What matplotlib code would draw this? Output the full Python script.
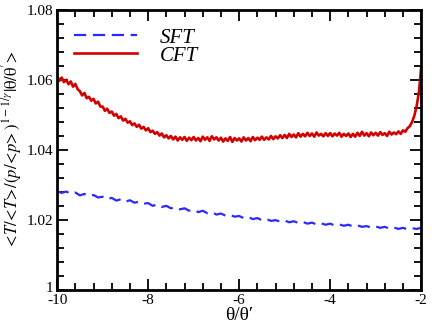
import numpy as np
import matplotlib
matplotlib.use('Agg')
import matplotlib.pyplot as plt
from matplotlib.ticker import MultipleLocator
from matplotlib.transforms import ScaledTranslation

cft_x = np.linspace(-10, -2, 161)
cft_y = [
    1.0612, 1.0598, 1.0607, 1.0594, 1.0601, 1.0588, 1.0596, 1.0581, 1.0589, 1.0574,
    1.0568, 1.0556, 1.0563, 1.0548, 1.0552, 1.0541, 1.0546, 1.0533, 1.0538, 1.0524,
    1.0524, 1.0512, 1.0518, 1.0506, 1.0510, 1.0498, 1.0503, 1.0491, 1.0496, 1.0484,
    1.0489, 1.0478, 1.0482, 1.0471, 1.0476, 1.0466, 1.0472, 1.0461, 1.0466, 1.0456,
    1.0462, 1.0451, 1.0455, 1.0446, 1.0451, 1.0441, 1.0447, 1.0436, 1.0442, 1.0433,
    1.0440, 1.0430, 1.0438, 1.0427, 1.0436, 1.0429, 1.0437, 1.0426, 1.0435, 1.0428,
    1.0437, 1.0427, 1.0434, 1.0425, 1.0438, 1.0429, 1.0436, 1.0426, 1.0439, 1.0430,
    1.0436, 1.0427, 1.0435, 1.0424, 1.0433, 1.0426, 1.0437, 1.0423, 1.0434, 1.0427,
    1.0433, 1.0424, 1.0436, 1.0427, 1.0434, 1.0425, 1.0437, 1.0428, 1.0435, 1.0429,
    1.0438, 1.0429, 1.0436, 1.0430, 1.0440, 1.0431, 1.0439, 1.0433, 1.0442, 1.0434,
    1.0443, 1.0434, 1.0446, 1.0437, 1.0444, 1.0436, 1.0448, 1.0438, 1.0446, 1.0439,
    1.0449, 1.0440, 1.0447, 1.0438, 1.0450, 1.0441, 1.0446, 1.0439, 1.0448, 1.0440,
    1.0448, 1.0439, 1.0447, 1.0441, 1.0449, 1.0438, 1.0446, 1.0440, 1.0447, 1.0437,
    1.0446, 1.0438, 1.0449, 1.0440, 1.0452, 1.0441, 1.0448, 1.0439, 1.0450, 1.0442,
    1.0449, 1.0441, 1.0451, 1.0443, 1.0448, 1.0440, 1.0452, 1.0444, 1.0450, 1.0445,
    1.0453, 1.0446, 1.0456, 1.0452, 1.0462, 1.0468, 1.0480, 1.0498, 1.0525, 1.0565,
    1.0635,
]

sft_x = np.linspace(-10, -2, 81)
sft_y = [
    1.0282, 1.0277, 1.0281, 1.0274, 1.0278, 1.0270, 1.0274, 1.0268, 1.0271, 1.0264,
    1.0266, 1.0259, 1.0263, 1.0255, 1.0259, 1.0252, 1.0256, 1.0249, 1.0252, 1.0246,
    1.0248, 1.0240, 1.0244, 1.0237, 1.0240, 1.0233, 1.0236, 1.0230, 1.0233, 1.0226,
    1.0229, 1.0222, 1.0226, 1.0219, 1.0222, 1.0215, 1.0218, 1.0212, 1.0214, 1.0209,
    1.0211, 1.0205, 1.0208, 1.0202, 1.0205, 1.0199, 1.0202, 1.0197, 1.0199, 1.0195,
    1.0198, 1.0193, 1.0196, 1.0191, 1.0194, 1.0189, 1.0192, 1.0187, 1.0190, 1.0186,
    1.0189, 1.0184, 1.0187, 1.0183, 1.0186, 1.0181, 1.0184, 1.0180, 1.0182, 1.0178,
    1.0181, 1.0177, 1.0180, 1.0175, 1.0178, 1.0174, 1.0177, 1.0173, 1.0176, 1.0174,
    1.0177,
]

x_ticks = [-10, -8, -6, -4, -2]
y_ticks = [1.0, 1.02, 1.04, 1.06, 1.08]
y_ticklabels = ['1', '1.02', '1.04', '1.06', '1.08']

plt.rcParams['font.family'] = ['Liberation Serif', 'DejaVu Serif']
plt.rcParams['mathtext.fontset'] = 'stix'
plt.rcParams['axes.unicode_minus'] = False

fig = plt.figure(figsize=(4.36, 3.27), dpi=100)
ax = fig.add_axes([0.131, 0.114, 0.835, 0.855])

ax.plot(sft_x, sft_y, color='#2a2aff', lw=1.6, dashes=(5.5, 3), label='SFT')
ax.plot(cft_x, cft_y, color='#d40000', lw=1.9, label='CFT')

ax.set_xlim(-10, -2)
ax.set_ylim(1.0, 1.08)
ax.set_xticks(x_ticks)
ax.set_yticks(y_ticks)
ax.set_yticklabels(y_ticklabels)
ax.xaxis.set_minor_locator(MultipleLocator(0.4))
ax.yaxis.set_minor_locator(MultipleLocator(0.004))
ax.tick_params(which='both', direction='in', top=True, right=True,
               labelsize=11, width=1.3, pad=3)
ax.tick_params(which='major', length=8)
ax.tick_params(which='minor', length=5)
for sp in ax.spines.values():
    sp.set_linewidth(2)

# lift the "1" a little so it does not sit on the "-10"
lbl = ax.get_yticklabels()[0]
lbl.set_transform(lbl.get_transform() + ScaledTranslation(0, 0.03, fig.dpi_scale_trans))

ax.set_xlabel('θ/θ′', fontsize=14, labelpad=0)
ax.set_ylabel(r'$<\!T/\!<\!T\!>\!/(p/\!<\!p\!>)^{1-1/\gamma}|\mathrm{\theta/\theta^{\prime}}\!>$',
              fontsize=12, labelpad=2)

leg = ax.legend(loc='upper left', bbox_to_anchor=(-0.005, 1.003), frameon=False,
                prop={'style': 'italic', 'size': 15}, handlelength=3.0,
                handletextpad=1.1, labelspacing=-0.08)

fig.savefig('out.png', dpi=100)
